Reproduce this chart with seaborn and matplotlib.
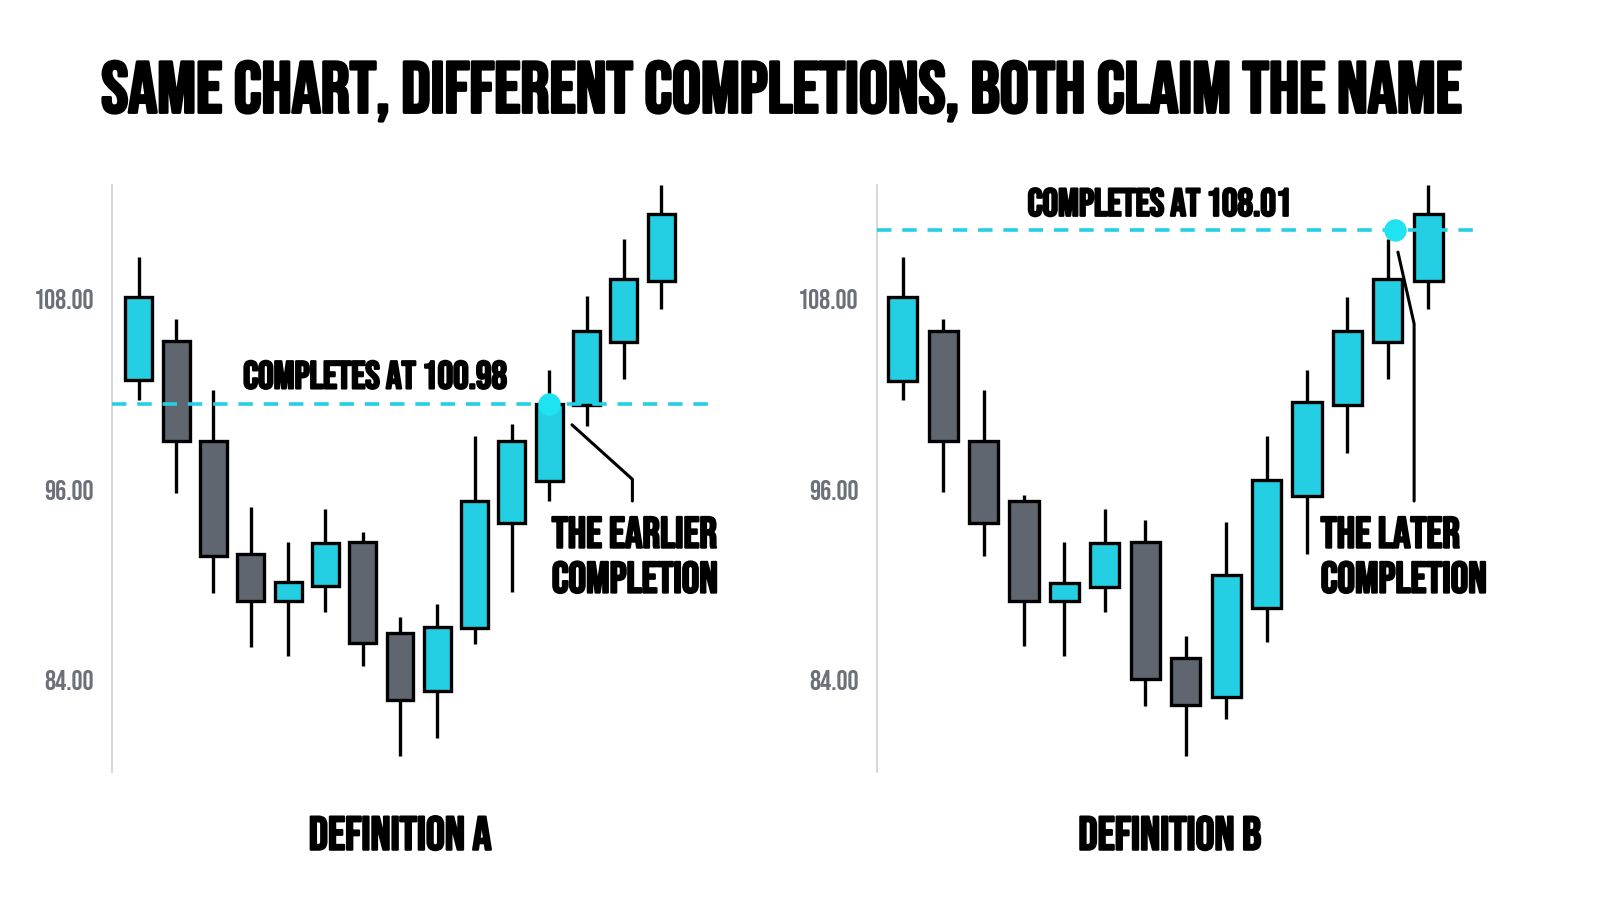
import numpy as np
import pandas as pd
import matplotlib.pyplot as plt
import matplotlib.patheffects as pe
import seaborn as sns

# candles (index = bar number)
a_open  = [102.88, 105.36, 99.07, 91.92, 88.97, 89.93, 92.69, 86.95, 83.33, 87.29, 93.89, 96.53, 101.33, 105.29, 109.13]
a_close = [108.12, 99.05, 91.80, 88.97, 90.17, 92.64, 86.33, 82.73, 87.36, 95.28, 99.05, 101.40, 105.96, 109.25, 113.33]
a_high  = [110.64, 106.73, 102.29, 94.92, 92.69, 94.75, 93.36, 88.01, 88.80, 99.36, 100.15, 103.56, 108.17, 111.77, 115.20]
a_low   = [101.64, 95.81, 89.52, 86.09, 85.51, 88.32, 84.89, 79.25, 80.33, 86.28, 89.57, 95.28, 100.01, 102.96, 107.35]

b_open  = [102.84, 106.01, 99.07, 95.28, 88.97, 89.88, 92.69, 85.37, 82.97, 88.56, 95.57, 101.33, 105.29, 109.15]
b_close = [108.12, 99.05, 93.91, 88.97, 90.12, 92.64, 84.05, 82.44, 90.60, 96.60, 101.52, 105.96, 109.25, 113.33]
b_high  = [110.64, 106.73, 102.29, 95.69, 92.69, 94.75, 94.08, 86.81, 93.96, 99.36, 103.56, 108.12, 111.77, 115.20]
b_low   = [101.64, 95.83, 91.80, 86.16, 85.51, 88.32, 82.37, 79.25, 81.53, 86.40, 91.97, 98.33, 102.96, 107.35]

levels = [101.40, 112.37]
level_text = ["COMPLETES AT 100.98", "COMPLETES AT 108.01"]
hit_x = [11, 12.18]
panel_names = ["DEFINITION A", "DEFINITION B"]
notes = ["THE EARLIER\nCOMPLETION", "THE LATER\nCOMPLETION"]
y_ticks = [84, 96, 108]

CYAN = "#25cfe3"
GREY = "#5f666f"
DOT = "#1fe3f0"
FONT = ['Bebas Neue', 'DejaVu Sans']

sns.set_theme(style="white")
plt.rcParams['font.family'] = FONT

fig = plt.figure(figsize=(16, 9.14), dpi=100)
fig.patch.set_facecolor("white")

bold = [pe.withStroke(linewidth=1.6, foreground="black")]

boxes = [[0.070, 0.155, 0.377, 0.643], [0.548, 0.155, 0.376, 0.643]]
frames = [
    pd.DataFrame({"open": a_open, "close": a_close, "high": a_high, "low": a_low}),
    pd.DataFrame({"open": b_open, "close": b_close, "high": b_high, "low": b_low}),
]
xlims = [(-0.72, 15.45), (-0.64, 14.24)]
# annotation leader lines (start, elbow, end) in data units
leaders = [
    ([11.61, 13.23, 13.23], [100.08, 96.65, 95.28]),
    ([12.25, 12.65, 12.65], [110.95, 106.44, 95.28]),
]
note_pos = [(11.07, 94.3), (10.34, 94.3)]
level_pos = [(6.34, 103.25), (6.36, 114.12)]
name_x = [0.250, 0.731]

for i, df in enumerate(frames):
    ax = fig.add_axes(boxes[i])
    df["x"] = np.arange(len(df))
    df["up"] = df["close"] >= df["open"]
    colors = [CYAN if u else GREY for u in df["up"]]
    bottoms = df[["open", "close"]].min(axis=1)
    heights = (df["close"] - df["open"]).abs()
    ax.vlines(df["x"], df["low"], df["high"], color="black", lw=2.4, zorder=2)
    ax.bar(df["x"], heights, bottom=bottoms, width=0.72, color=colors,
           edgecolor="black", linewidth=2.4, zorder=3)
    ax.axhline(levels[i], color=CYAN, lw=2.6, ls=(0, (4, 3)), zorder=4)
    ax.scatter([hit_x[i]], [levels[i]], s=260, color=DOT, zorder=5, linewidths=0)
    lx, ly = leaders[i]
    ax.plot(lx, ly, color="black", lw=2.2, zorder=4)
    ax.text(*note_pos[i], notes[i], ha="left", va="top", fontsize=31.5,
            color="black", linespacing=1.45, path_effects=bold)
    ax.text(*level_pos[i], level_text[i], ha="center", va="center", fontsize=28,
            color="black", path_effects=bold)
    ax.set_xlim(*xlims[i])
    ax.set_ylim(78.2, 115.2)
    ax.set_xticks([])
    ax.set_yticks(y_ticks)
    ax.set_yticklabels([f"{t:.2f}" for t in y_ticks], fontsize=20, color="#6b7079")
    ax.tick_params(axis="y", length=0, pad=13)
    sns.despine(ax=ax, top=True, right=True, bottom=True)
    ax.spines["left"].set_color("#cfcfcf")
    ax.spines["left"].set_linewidth(1.2)
    ax.set_facecolor("white")
    fig.text(name_x[i], 0.089, panel_names[i], ha="center",
             va="center", fontsize=34, color="black", path_effects=bold)

fig.text(0.489, 0.90, "SAME CHART, DIFFERENT COMPLETIONS, BOTH CLAIM THE NAME",
         ha="center", va="center", fontsize=52, color="black",
         path_effects=[pe.withStroke(linewidth=2.2, foreground="black")])

fig.savefig("out.png", dpi=100, facecolor="white")
